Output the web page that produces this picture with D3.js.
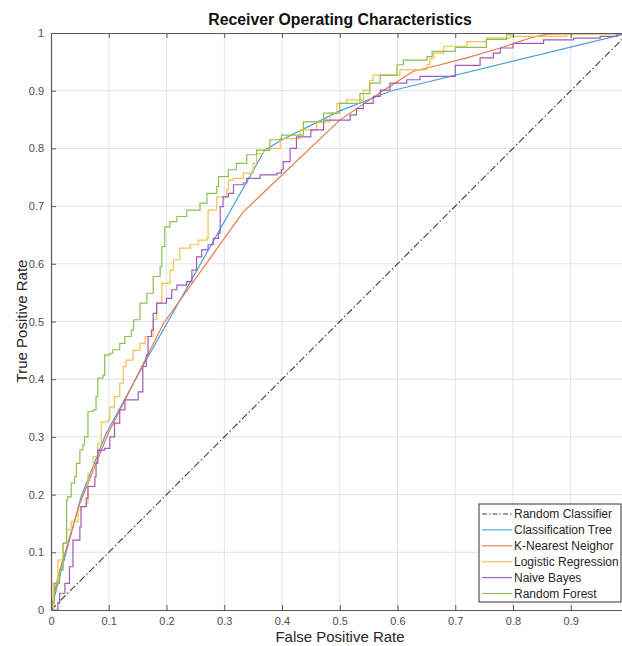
<!DOCTYPE html>
<html>
<head>
<meta charset="utf-8">
<script src="https://cdnjs.cloudflare.com/ajax/libs/d3/7.8.5/d3.min.js"></script>
<style>
    body { margin: 0; background: #fff; }
    svg { display: block; font-family: "Liberation Sans", Arial, sans-serif; }
</style>
</head>
<body>
<div id="rocChart"></div>
<script>
// ——— DATA —————————————————————————————————————————————————————————
const xTicks = [0, 0.1, 0.2, 0.3, 0.4, 0.5, 0.6, 0.7, 0.8, 0.9];
const yTicks = [0, 0.1, 0.2, 0.3, 0.4, 0.5, 0.6, 0.7, 0.8, 0.9, 1];
const seriesNames = ["Random Classifier", "Classification Tree", "K-Nearest Neighor",
    "Logistic Regression", "Naive Bayes", "Random Forest"];

const randomClassifier = [[0, 0], [1, 1]];

const classificationTree = [[0, 0], [0.018, 0.069], [0.052, 0.196], [0.095, 0.305], [0.162, 0.428],
    [0.37, 0.797], [0.40, 0.815], [0.5, 0.865], [0.59, 0.90], [1, 1]];

const kNearest = [[0, 0], [0.012, 0.058], [0.05, 0.185], [0.099, 0.306], [0.195, 0.497], [0.333, 0.69],
    [0.5, 0.849], [0.575, 0.9], [0.628, 0.934], [0.662, 0.942], [0.72, 0.957], [0.778, 0.974],
    [0.835, 0.993], [0.86, 0.998], [1, 1]];

const logisticRegression = [[0, 0], [0.004, 0.047], [0.012, 0.087], [0.021, 0.116], [0.027, 0.139],
    [0.035, 0.153], [0.047, 0.173], [0.052, 0.179], [0.061, 0.185], [0.064, 0.237], [0.073, 0.266],
    [0.081, 0.289], [0.087, 0.326], [0.099, 0.329], [0.102, 0.352], [0.11, 0.37], [0.119, 0.393],
    [0.125, 0.422], [0.13, 0.433], [0.142, 0.45], [0.154, 0.462], [0.163, 0.474], [0.177, 0.503],
    [0.183, 0.532], [0.192, 0.566], [0.206, 0.589], [0.212, 0.607], [0.223, 0.627], [0.241, 0.633],
    [0.255, 0.641], [0.27, 0.644], [0.272, 0.693], [0.287, 0.716], [0.304, 0.728], [0.307, 0.745],
    [0.316, 0.748], [0.333, 0.757], [0.35, 0.774], [0.356, 0.791], [0.368, 0.797], [0.376, 0.80],
    [0.397, 0.817], [0.431, 0.832], [0.46, 0.846], [0.483, 0.861], [0.495, 0.878], [0.512, 0.884],
    [0.541, 0.901], [0.552, 0.918], [0.558, 0.927], [0.599, 0.927], [0.604, 0.936], [0.651, 0.945],
    [0.656, 0.956], [0.663, 0.965], [0.68, 0.977], [0.72, 0.985], [0.754, 0.991], [0.795, 0.994],
    [0.893, 0.998], [1, 1]];

const naiveBayes = [[0, 0], [0.012, 0.012], [0.015, 0.029], [0.024, 0.046], [0.032, 0.075], [0.038, 0.081],
    [0.038, 0.121], [0.05, 0.144], [0.052, 0.179], [0.061, 0.194], [0.064, 0.214], [0.076, 0.231],
    [0.078, 0.254], [0.081, 0.277], [0.093, 0.28], [0.102, 0.30], [0.11, 0.324], [0.119, 0.347],
    [0.128, 0.364], [0.151, 0.378], [0.159, 0.422], [0.165, 0.442], [0.168, 0.474], [0.174, 0.485],
    [0.177, 0.514], [0.183, 0.532], [0.2, 0.54], [0.209, 0.555], [0.218, 0.563], [0.235, 0.569],
    [0.244, 0.589], [0.252, 0.612], [0.261, 0.624], [0.272, 0.633], [0.281, 0.644], [0.29, 0.653],
    [0.293, 0.699], [0.298, 0.716], [0.307, 0.722], [0.316, 0.737], [0.333, 0.74], [0.339, 0.748],
    [0.362, 0.754], [0.391, 0.757], [0.399, 0.763], [0.402, 0.777], [0.414, 0.80], [0.425, 0.82],
    [0.45, 0.832], [0.472, 0.849], [0.5, 0.849], [0.518, 0.858], [0.529, 0.869], [0.541, 0.878],
    [0.558, 0.89], [0.57, 0.901], [0.587, 0.913], [0.616, 0.919], [0.639, 0.925], [0.674, 0.925],
    [0.70, 0.944], [0.743, 0.957], [0.766, 0.965], [0.778, 0.974], [0.80, 0.982], [0.853, 0.988],
    [0.905, 0.991], [0.951, 0.994], [0.98, 0.998], [1, 1]];

const randomForest = [[0, 0], [0, 0.012], [0.006, 0.046], [0.015, 0.069], [0.021, 0.116], [0.027, 0.191],
    [0.029, 0.196], [0.035, 0.22], [0.041, 0.231], [0.044, 0.254], [0.05, 0.277], [0.055, 0.286],
    [0.058, 0.30], [0.064, 0.344], [0.073, 0.347], [0.078, 0.37], [0.081, 0.402], [0.09, 0.407],
    [0.093, 0.442], [0.102, 0.445], [0.107, 0.451], [0.119, 0.462], [0.128, 0.474], [0.139, 0.485],
    [0.143, 0.503], [0.154, 0.532], [0.166, 0.549], [0.177, 0.578], [0.189, 0.595], [0.192, 0.63],
    [0.197, 0.664], [0.206, 0.673], [0.218, 0.682], [0.235, 0.693], [0.258, 0.705], [0.27, 0.722],
    [0.287, 0.734], [0.29, 0.751], [0.307, 0.763], [0.321, 0.774], [0.339, 0.789], [0.356, 0.797],
    [0.379, 0.815], [0.399, 0.823], [0.437, 0.846], [0.472, 0.861], [0.5, 0.878], [0.535, 0.895],
    [0.552, 0.913], [0.57, 0.927], [0.599, 0.945], [0.61, 0.953], [0.651, 0.959], [0.66, 0.968],
    [0.70, 0.975], [0.754, 0.989], [0.789, 0.997], [0.80, 1], [1, 1]];

// ——— SETUP ————————————————————————————————————————————————————————
const width = 622;
const height = 646;
const plot = { left: 51, top: 33, right: 628.5, bottom: 610 };

const series = [
    { name: seriesNames[0], values: randomClassifier, color: "#404040", step: false, dash: "7,2.5,1.5,2.5" },
    { name: seriesNames[1], values: classificationTree, color: "#45a0dc", step: false },
    { name: seriesNames[2], values: kNearest, color: "#e6794a", step: false },
    { name: seriesNames[3], values: logisticRegression, color: "#f2c24c", step: true },
    { name: seriesNames[4], values: naiveBayes, color: "#a05bb8", step: true },
    { name: seriesNames[5], values: randomForest, color: "#8dbf55", step: true }
];

const svg = d3.select("#rocChart").append("svg")
    .attr("width", width)
    .attr("height", height);

svg.append("rect").attr("width", width).attr("height", height).attr("fill", "#fff");

// ——— SCALES ———————————————————————————————————————————————————————
const xScale = d3.scaleLinear().domain([0, 1]).range([plot.left, plot.right]);
const yScale = d3.scaleLinear().domain([0, 1]).range([plot.bottom, plot.top]);

// ——— GRID —————————————————————————————————————————————————————————
svg.append("g")
    .selectAll("line")
    .data(xTicks.slice(1))
    .enter().append("line")
    .attr("x1", (d) => xScale(d)).attr("x2", (d) => xScale(d))
    .attr("y1", plot.top).attr("y2", plot.bottom)
    .attr("stroke", "#e3e3e3");

svg.append("g")
    .selectAll("line")
    .data(yTicks.slice(1, -1))
    .enter().append("line")
    .attr("x1", plot.left).attr("x2", plot.right)
    .attr("y1", (d) => yScale(d)).attr("y2", (d) => yScale(d))
    .attr("stroke", "#e3e3e3");

// ——— LINES ————————————————————————————————————————————————————————
svg.append("clipPath").attr("id", "plotClip")
    .append("rect")
    .attr("x", plot.left).attr("y", plot.top)
    .attr("width", plot.right - plot.left).attr("height", plot.bottom - plot.top);

const linePlain = d3.line().x((d) => xScale(d[0])).y((d) => yScale(d[1]));
const lineStep = d3.line().curve(d3.curveStepAfter).x((d) => xScale(d[0])).y((d) => yScale(d[1]));

svg.append("g")
    .attr("clip-path", "url(#plotClip)")
    .selectAll("path")
    .data(series)
    .enter().append("path")
    .attr("d", (d) => (d.step ? lineStep : linePlain)(d.values))
    .attr("fill", "none")
    .attr("stroke", (d) => d.color)
    .attr("stroke-width", (d) => d.dash ? 1.1 : 1.2)
    .attr("stroke-dasharray", (d) => d.dash || null);

// ——— AXES —————————————————————————————————————————————————————————
const axisColor = "#5a5a5a";
const fmt = (d) => d === 0 ? "0" : d === 1 ? "1" : d3.format(".1f")(d);

const xBottom = svg.append("g")
    .attr("transform", `translate(0,${plot.bottom})`)
    .call(d3.axisBottom(xScale).tickValues(xTicks).tickFormat(fmt).tickSizeInner(-5).tickSizeOuter(0).tickPadding(7));

const xTop = svg.append("g")
    .attr("transform", `translate(0,${plot.top})`)
    .call(d3.axisTop(xScale).tickValues(xTicks).tickFormat("").tickSizeInner(-5).tickSizeOuter(0));

const yLeft = svg.append("g")
    .attr("transform", `translate(${plot.left},0)`)
    .call(d3.axisLeft(yScale).tickValues(yTicks).tickFormat(fmt).tickSizeInner(-5).tickSizeOuter(0).tickPadding(7));

[xBottom, xTop, yLeft].forEach((g) => {
    g.select(".domain").attr("stroke", axisColor).attr("stroke-width", 1.2);
    g.selectAll(".tick line").attr("stroke", axisColor);
    g.selectAll(".tick text")
        .attr("fill", "#4d4d4d")
        .style("font-size", "11px")
        .style("font-family", "\"Liberation Sans\", Arial, sans-serif");
});

// ——— TITLES ———————————————————————————————————————————————————————
svg.append("text")
    .attr("x", 340)
    .attr("y", 25)
    .attr("text-anchor", "middle")
    .style("font-size", "15.8px")
    .style("font-weight", "bold")
    .attr("fill", "#111")
    .text("Receiver Operating Characteristics");

svg.append("text")
    .attr("x", 340)
    .attr("y", 642)
    .attr("text-anchor", "middle")
    .style("font-size", "15px")
    .attr("fill", "#262626")
    .text("False Positive Rate");

svg.append("text")
    .attr("transform", "translate(27,321) rotate(-90)")
    .attr("text-anchor", "middle")
    .style("font-size", "15px")
    .attr("fill", "#262626")
    .text("True Positive Rate");

// ——— LEGEND ———————————————————————————————————————————————————————
const legend = svg.append("g").attr("transform", "translate(479,504)");

legend.append("rect")
    .attr("width", 142)
    .attr("height", 98)
    .attr("fill", "#fff")
    .attr("stroke", "#333")
    .attr("stroke-width", 1);

const items = legend.selectAll(".item")
    .data(series)
    .enter().append("g")
    .attr("transform", (d, i) => `translate(0,${10 + i * 15.9})`);

items.append("line")
    .attr("x1", 3).attr("x2", 33)
    .attr("stroke", (d) => d.color)
    .attr("stroke-width", 1.1)
    .attr("stroke-dasharray", (d) => d.dash ? "5,2,1.5,2" : null);

items.append("text")
    .attr("x", 35)
    .attr("y", 4)
    .style("font-size", "12px")
    .attr("fill", "#262626")
    .text((d) => d.name);
</script>
</body>
</html>
